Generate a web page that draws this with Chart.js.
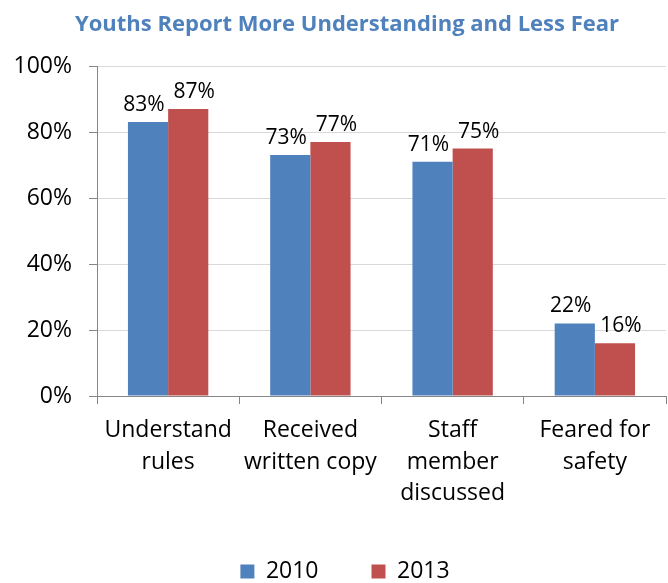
<!DOCTYPE html>
<html>
<head>
<meta charset="utf-8">
<script src="https://cdn.jsdelivr.net/npm/chart.js@4"></script>
<style>
  html, body { margin: 0; padding: 0; background: #fff; }
  canvas { display: block; }
</style>
</head>
<body>
<canvas id="chart" width="668" height="583"></canvas>
<script>
const categories = [
    ['Understand', 'rules'],
    ['Received', 'written copy'],
    ['Staff', 'member', 'discussed'],
    ['Feared for', 'safety']
];
const values2010 = [83, 73, 71, 22];
const values2013 = [87, 77, 75, 16];
const yTicks = [0, 20, 40, 60, 80, 100];

const fontFamily = '"Open Sans", "Liberation Sans", sans-serif';

// labels on top of each bar, pushed apart a little so they do not touch
const labelShift = [-4, 6];
const barLabels = {
    id: 'barLabels',
    afterDatasetsDraw(chart) {
        const ctx = chart.ctx;
        ctx.save();
        ctx.font = '21px ' + fontFamily;
        ctx.fillStyle = '#000';
        ctx.textAlign = 'center';
        ctx.textBaseline = 'alphabetic';
        chart.data.datasets.forEach((ds, i) => {
            chart.getDatasetMeta(i).data.forEach((bar, j) => {
                ctx.fillText(ds.data[j] + '%', bar.x + labelShift[i], bar.y - 11);
            });
        });
        ctx.restore();
    }
};

// title and legend sit a bit right of the canvas centre in the original
const nudgeBoxes = {
    id: 'nudgeBoxes',
    afterLayout(chart) {
        if (chart.titleBlock) {
            chart.titleBlock.left += 14;
            chart.titleBlock.right += 14;
        }
        if (chart.legend) {
            chart.legend.left += 12;
            chart.legend.right += 12;
        }
    }
};

const ctx = document.getElementById('chart').getContext('2d');
new Chart(ctx, {
    type: 'bar',
    data: {
        labels: categories,
        datasets: [
            {
                label: '2010',
                data: values2010,
                backgroundColor: '#4F81BD',
                borderWidth: 0
            },
            {
                label: '2013',
                data: values2013,
                backgroundColor: '#C0504D',
                borderWidth: 0
            }
        ]
    },
    options: {
        responsive: false,
        animation: false,
        layout: { padding: { left: 0, right: 2, top: 0, bottom: -10 } },
        datasets: {
            bar: { categoryPercentage: 0.565, barPercentage: 1.0 }
        },
        plugins: {
            title: {
                display: true,
                text: 'Youths Report More Understanding and Less Fear',
                color: '#4F81BD',
                font: { family: fontFamily, size: 22, weight: 'bold' },
                padding: { top: 12, bottom: 27.6 }
            },
            legend: {
                position: 'bottom',
                labels: {
                    boxWidth: 14,
                    boxHeight: 14,
                    padding: 53,
                    color: '#000',
                    font: { family: fontFamily, size: 23 }
                }
            },
            tooltip: { enabled: false }
        },
        scales: {
            x: {
                grid: {
                    offset: true,
                    drawOnChartArea: false,
                    drawTicks: true,
                    tickLength: 8,
                    color: '#868686'
                },
                border: { color: '#868686', width: 1 },
                ticks: {
                    color: '#000',
                    padding: 10,
                    maxRotation: 0,
                    font: { family: fontFamily, size: 23, lineHeight: 1.39 }
                },
                afterFit(scale) { scale.height = 111; }
            },
            y: {
                min: 0,
                max: 100,
                afterBuildTicks(scale) {
                    scale.ticks = yTicks.map(v => ({ value: v }));
                },
                grid: {
                    color: '#D9D9D9',
                    tickColor: '#868686',
                    tickLength: 8
                },
                border: { color: '#868686', width: 1 },
                ticks: {
                    color: '#000',
                    padding: 17,
                    font: { family: fontFamily, size: 23 },
                    callback: v => v + '%'
                },
                afterFit(scale) { scale.width = 97; }
            }
        }
    },
    plugins: [barLabels, nudgeBoxes]
});
</script>
</body>
</html>
